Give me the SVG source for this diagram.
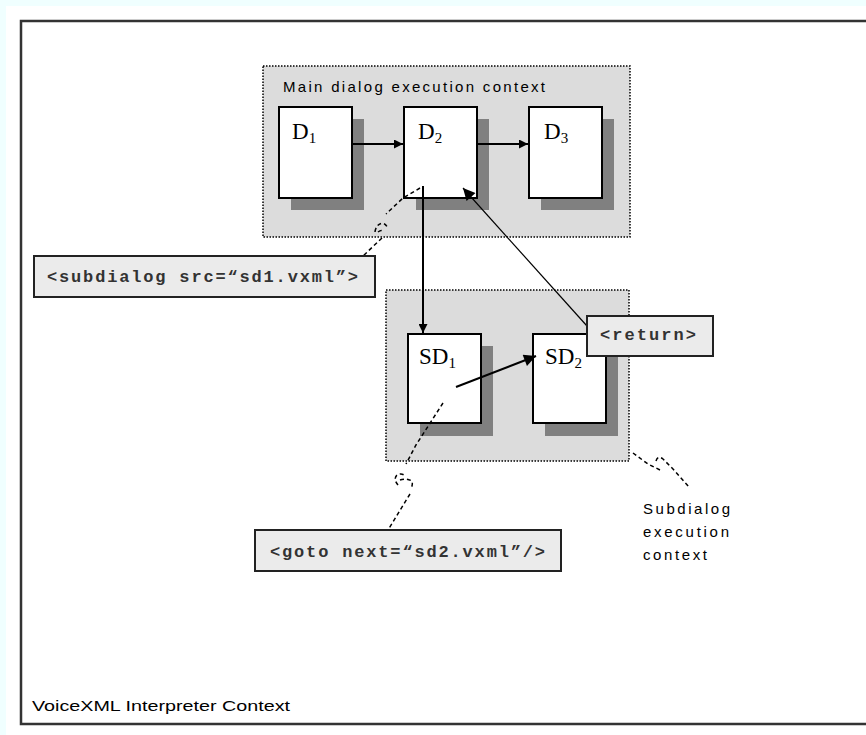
<svg xmlns="http://www.w3.org/2000/svg" width="866" height="735" viewBox="0 0 866 735">
<defs>
<marker id="ah" viewBox="0 0 10 10" refX="10" refY="5" markerWidth="10" markerHeight="9" markerUnits="userSpaceOnUse" orient="auto">
<path d="M0,0 L10,5 L0,10 z" fill="#000"/>
</marker>
<marker id="ahs" viewBox="0 0 10 10" refX="10" refY="5" markerWidth="14" markerHeight="12" markerUnits="userSpaceOnUse" orient="auto">
<path d="M0,0 L10,5 L0,10 z" fill="#000"/>
</marker>
</defs>
<style>
.ctx{fill:#dcdcdc;stroke:#000;stroke-width:1.5;stroke-dasharray:1.5 1.5}
.box{fill:#fff;stroke:#000;stroke-width:2}
.sh{fill:#808080}
.lbl{fill:#ebebeb;stroke:#222;stroke-width:2}
.mono{font-family:"Liberation Mono","Courier New",monospace;font-size:17px;font-weight:bold;fill:#333}
.sans{font-family:"Liberation Sans",Arial,sans-serif;font-size:14px;fill:#000}
.serif{font-family:"Liberation Serif","Times New Roman",serif;font-size:23px;fill:#000}
.sub{font-size:15px}
.arr{stroke:#000;stroke-width:2;fill:none}
.dash{stroke:#000;stroke-width:1.5;fill:none;stroke-dasharray:4 3}
</style>
<rect x="0" y="0" width="866" height="735" fill="#f0ffff"/>
<rect x="6" y="6" width="860" height="729" fill="#fff"/>
<path d="M870,21 L21,21 L21,724 L870,724" fill="none" stroke="#333" stroke-width="2.5"/>
<text class="sans" x="32" y="711" textLength="258" lengthAdjust="spacingAndGlyphs" style="font-size:15px">VoiceXML Interpreter Context</text>

<g id="main-context">
<rect class="ctx" x="263" y="66" width="367" height="171"/>
<text class="sans" x="283" y="92" textLength="262" lengthAdjust="spacing" style="font-size:15px">Main dialog execution context</text>
</g>
<g id="D1">
<rect class="sh" x="291" y="119" width="73" height="91"/>
<rect class="box" x="279" y="107" width="73" height="91"/>
<text class="serif" x="292" y="139">D<tspan class="sub" dy="4">1</tspan></text>
</g>
<g id="D2">
<rect class="sh" x="416" y="119" width="73" height="91"/>
<rect class="box" x="404" y="107" width="73" height="91"/>
<text class="serif" x="418" y="139">D<tspan class="sub" dy="4">2</tspan></text>
</g>
<g id="D3">
<rect class="sh" x="541" y="119" width="73" height="91"/>
<rect class="box" x="529" y="107" width="73" height="91"/>
<text class="serif" x="544" y="139">D<tspan class="sub" dy="4">3</tspan></text>
</g>

<g id="sub-context">
<rect class="ctx" x="386" y="290" width="243" height="171"/>
</g>
<g id="SD1">
<rect class="sh" x="420" y="346" width="73" height="90"/>
<rect class="box" x="408" y="334" width="73" height="89"/>
<text class="serif" x="419" y="364">SD<tspan class="sub" dy="4">1</tspan></text>
</g>
<g id="SD2">
<rect class="sh" x="545" y="346" width="73" height="90"/>
<rect class="box" x="533" y="334" width="73" height="89"/>
<text class="serif" x="545" y="364">SD<tspan class="sub" dy="4">2</tspan></text>
</g>

<g id="connectors">
<line class="arr" x1="352" y1="144" x2="403" y2="144" marker-end="url(#ah)"/>
<line class="arr" x1="477" y1="144" x2="528" y2="144" marker-end="url(#ah)"/>
<line class="arr" x1="423" y1="186" x2="423" y2="333" marker-end="url(#ah)"/>
<line class="arr" x1="456" y1="387" x2="536" y2="356" marker-end="url(#ahs)"/>
<line x1="587" y1="326" x2="463" y2="188" stroke="#000" stroke-width="1.2" marker-end="url(#ahs)"/>
<path class="dash" d="M420,188 L403,198 L386,214"/>
<path class="dash" d="M375,232 q1,-8 8,-9 q4,2 5,6 M378,232 q4,-3 6,0 M382,238 L363,256"/>
<path class="dash" d="M443,403 L416,445 L406,464"/>
<path class="dash" d="M398,485 q-5,-6 -1,-10 q4,-2 7,0 M400,480 q6,-2 12,1 q1,4 -1,7 M410,494 L388,530"/>
<path class="dash" d="M633,453 L648,464 L660,470 M656,461 q2,-6 7,-2 q5,5 10,10 L690,488"/>
</g>

<g id="subdialog-label">
<rect class="lbl" x="34" y="256" width="341" height="41"/>
<text class="mono" x="47" y="282" textLength="311" lengthAdjust="spacing">&lt;subdialog src=“sd1.vxml”&gt;</text>
</g>
<g id="return-label">
<rect class="lbl" x="587" y="316" width="126" height="40"/>
<text class="mono" x="600" y="340" textLength="96" lengthAdjust="spacing">&lt;return&gt;</text>
</g>
<g id="goto-label">
<rect class="lbl" x="255" y="530" width="306" height="41"/>
<text class="mono" x="270" y="557" textLength="275" lengthAdjust="spacing">&lt;goto next=“sd2.vxml”/&gt;</text>
</g>
<g id="sub-context-label">
<text class="sans" x="643" y="514" textLength="87" lengthAdjust="spacing" style="font-size:15px">Subdialog</text>
<text class="sans" x="643" y="537" textLength="86" lengthAdjust="spacing" style="font-size:15px">execution</text>
<text class="sans" x="643" y="560" textLength="64" lengthAdjust="spacing" style="font-size:15px">context</text>
</g>
</svg>
